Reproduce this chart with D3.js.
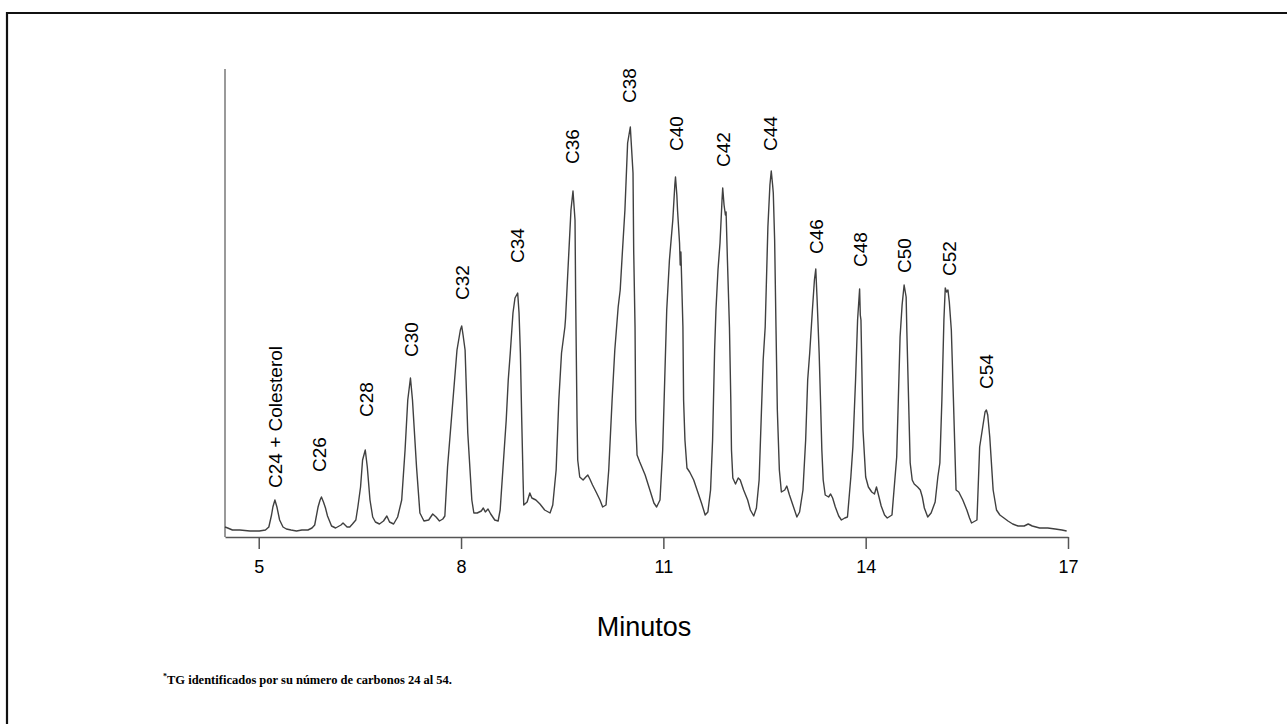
<!DOCTYPE html>
<html><head><meta charset="utf-8">
<script src="https://cdn.jsdelivr.net/npm/d3@7"></script>
<style>html,body{margin:0;padding:0;background:#fff;} svg{display:block;}</style>
</head><body>
<svg id="chart" width="1287" height="724"></svg>
<script>
// ---------- data ----------
const xTicks = [5, 8, 11, 14, 17];
const xLabel = "Minutos";
const footMark = "*";
const footText = "TG identificados por su número de carbonos 24 al 54.";

const peakLabels = ["C24 + Colesterol","C26","C28","C30","C32","C34","C36","C38",
                    "C40","C42","C44","C46","C48","C50","C52","C54"];
const labelTimes = [5.24,5.89,6.59,7.26,8.02,8.83,9.65,10.50,
                    11.19,11.88,12.59,13.26,13.92,14.57,15.24,15.79];
const labelSignal = [49,65,120,180,237,274,373,434,
                     386,370,386,283,270,264,261,148];

// chromatogram trace: [minutes, detector response]
const trace = [
 [4.50,10],[4.54,9],[4.61,7],[4.72,7],[4.87,6],[5.01,6],[5.10,7],
 [5.15,10],[5.19,22],[5.21,30],[5.24,37],[5.27,30],[5.31,17],[5.36,10],[5.41,8],[5.48,7],[5.56,6],[5.64,7],[5.73,7],
 [5.79,9],[5.83,12],[5.88,30],[5.91,37],[5.93,40],[5.96,35],[5.99,29],[6.02,21],[6.08,11],[6.14,9],[6.22,12],[6.25,14],[6.31,10],[6.35,10],
 [6.39,13],[6.44,17],[6.47,30],[6.51,50],[6.54,77],[6.58,87],[6.61,70],[6.65,37],[6.69,20],[6.73,15],[6.79,13],[6.85,16],[6.90,21],[6.94,15],[7.00,13],
 [7.06,20],[7.12,37],[7.17,87],[7.21,137],[7.25,159],[7.28,137],[7.34,70],[7.39,24],[7.45,16],[7.52,17],[7.58,23],[7.63,20],[7.68,16],[7.73,18],
 [7.76,21],[7.80,70],[7.88,137],[7.94,187],[7.99,207],[8.01,211],[8.03,202],[8.06,187],[8.10,104],[8.16,37],[8.19,24],
 [8.24,24],[8.30,26],[8.33,29],[8.36,25],[8.40,28],[8.44,23],[8.50,17],[8.55,16],
 [8.58,27],[8.62,67],[8.67,117],[8.70,157],[8.73,184],[8.77,224],[8.80,239],[8.84,244],[8.86,224],[8.88,184],[8.90,117],[8.92,57],[8.93,32],
 [8.98,35],[9.02,44],[9.05,39],[9.11,37],[9.17,33],[9.24,27],[9.32,24],
 [9.36,32],[9.41,67],[9.45,137],[9.49,184],[9.54,210],[9.55,219],[9.58,260],[9.63,327],[9.66,346],[9.69,317],[9.70,237],[9.71,177],[9.72,117],[9.73,77],[9.76,60],
 [9.81,57],[9.85,60],[9.88,62],[9.91,58],[9.95,52],[10.01,44],[10.06,37],[10.10,30],
 [10.15,32],[10.19,67],[10.24,137],[10.28,187],[10.33,230],[10.36,247],[10.39,282],[10.43,327],[10.47,394],[10.51,410],[10.53,387],[10.55,364],[10.56,287],[10.58,210],[10.59,117],[10.61,82],
 [10.65,75],[10.73,62],[10.80,47],[10.86,34],[10.90,30],
 [10.95,37],[10.99,87],[11.02,157],[11.05,227],[11.09,277],[11.14,317],[11.17,352],[11.18,360],[11.20,342],[11.21,327],[11.24,294],[11.25,272],[11.26,285],[11.29,210],[11.30,137],[11.32,97],[11.35,69],
 [11.39,65],[11.45,57],[11.51,45],[11.57,33],[11.62,22],
 [11.66,25],[11.70,47],[11.73,97],[11.76,187],[11.78,227],[11.81,267],[11.84,294],[11.87,337],[11.88,349],[11.90,332],[11.92,322],[11.93,325],[11.95,277],[11.98,210],[12.00,137],[12.01,87],[12.03,59],
 [12.07,53],[12.11,59],[12.14,57],[12.19,47],[12.25,37],[12.29,27],[12.34,21],
 [12.38,29],[12.42,57],[12.45,117],[12.48,177],[12.51,210],[12.55,310],[12.58,352],[12.60,366],[12.62,352],[12.63,344],[12.65,297],[12.67,210],[12.69,127],[12.72,67],[12.75,45],
 [12.80,47],[12.83,51],[12.87,42],[12.92,32],[12.98,20],
 [13.02,25],[13.07,47],[13.11,97],[13.14,157],[13.17,184],[13.21,227],[13.24,257],[13.26,268],[13.28,237],[13.31,184],[13.33,137],[13.35,87],[13.37,57],[13.40,42],
 [13.45,40],[13.48,43],[13.51,39],[13.55,30],[13.60,21],[13.64,17],[13.69,19],
 [13.73,20],[13.78,60],[13.81,90],[13.85,157],[13.88,217],[13.91,248],[13.92,222],[13.93,217],[13.96,107],[14.00,60],[14.04,50],
 [14.09,45],[14.13,43],[14.16,50],[14.19,42],[14.23,31],[14.28,22],[14.32,19],
 [14.39,22],[14.46,80],[14.51,200],[14.54,232],[14.57,252],[14.60,240],[14.61,207],[14.66,74],[14.69,57],
 [14.72,53],[14.77,50],[14.81,47],[14.84,40],[14.87,29],[14.92,20],
 [14.97,24],[15.03,35],[15.07,60],[15.10,74],[15.13,137],[15.16,217],[15.18,249],[15.20,245],[15.22,247],[15.24,235],[15.27,207],[15.30,140],[15.34,47],
 [15.38,45],[15.44,37],[15.50,27],[15.54,19],[15.57,14],
 [15.65,17],[15.69,90],[15.74,112],[15.77,125],[15.79,127],[15.81,122],[15.84,100],[15.89,47],[15.94,27],
 [15.99,22],[16.05,19],[16.11,16],[16.18,13],[16.26,11],[16.35,11],[16.41,13],[16.47,11],[16.58,9],[16.70,9],[16.81,8],[16.91,7],[16.98,6]
];

// ---------- drawing ----------
const FONT = "'Liberation Sans', Arial, Helvetica, sans-serif";
const svg = d3.select("#chart");
const x = d3.scaleLinear().domain([4.5, 17]).range([225, 1068]);
const y = d3.scaleLinear().domain([0, 468]).range([537, 69]);

// frame (top and left)
svg.append("path")
  .attr("d", "M7,724 L7,13 L1287,13")
  .attr("fill", "none").attr("stroke", "#111").attr("stroke-width", 2.2);

// vertical axis line
svg.append("line")
  .attr("x1", x.range()[0]).attr("x2", x.range()[0])
  .attr("y1", y.range()[1]).attr("y2", y.range()[0])
  .attr("stroke", "#9a9a9a").attr("stroke-width", 2);

// trace
const line = d3.line().x(d => x(d[0])).y(d => y(d[1]));
svg.append("path").datum(trace)
  .attr("d", line)
  .attr("fill", "none").attr("stroke", "#404040")
  .attr("stroke-width", 1.4).attr("stroke-linejoin", "round");

// x axis
const gx = svg.append("g")
  .attr("transform", `translate(0,${y(0)})`)
  .call(d3.axisBottom(x).tickValues(xTicks).tickSize(12).tickSizeOuter(0)
        .tickPadding(11).tickFormat(d3.format("d")));
gx.attr("font-family", FONT).attr("font-size", 18);
gx.select(".domain").attr("stroke", "#555").attr("stroke-width", 1.5);
gx.selectAll(".tick line").attr("stroke", "#555").attr("stroke-width", 1.5);
gx.selectAll(".tick text").attr("fill", "#000");

// peak labels
svg.append("g").selectAll("text").data(peakLabels).join("text")
  .attr("transform", (d, i) => `translate(${x(labelTimes[i])},${y(labelSignal[i])}) rotate(-90)`)
  .attr("dy", "0.36em").attr("text-anchor", "start")
  .attr("font-family", FONT).attr("font-size", 19).attr("fill", "#000")
  .text(d => d);

// axis title
svg.append("text")
  .attr("x", 644).attr("y", 636).attr("text-anchor", "middle")
  .attr("font-family", FONT).attr("font-size", 27).attr("fill", "#000")
  .text(xLabel);

// footnote
const fn = svg.append("text")
  .attr("x", 163).attr("y", 684)
  .attr("font-family", "'Liberation Serif', 'Times New Roman', serif")
  .attr("font-weight", "bold").attr("fill", "#000");
fn.append("tspan").attr("font-size", 8).attr("dy", -5).text(footMark);
fn.append("tspan").attr("x", 167).attr("dy", 5).attr("font-size", 12.5).text(footText);
</script>
</body></html>
